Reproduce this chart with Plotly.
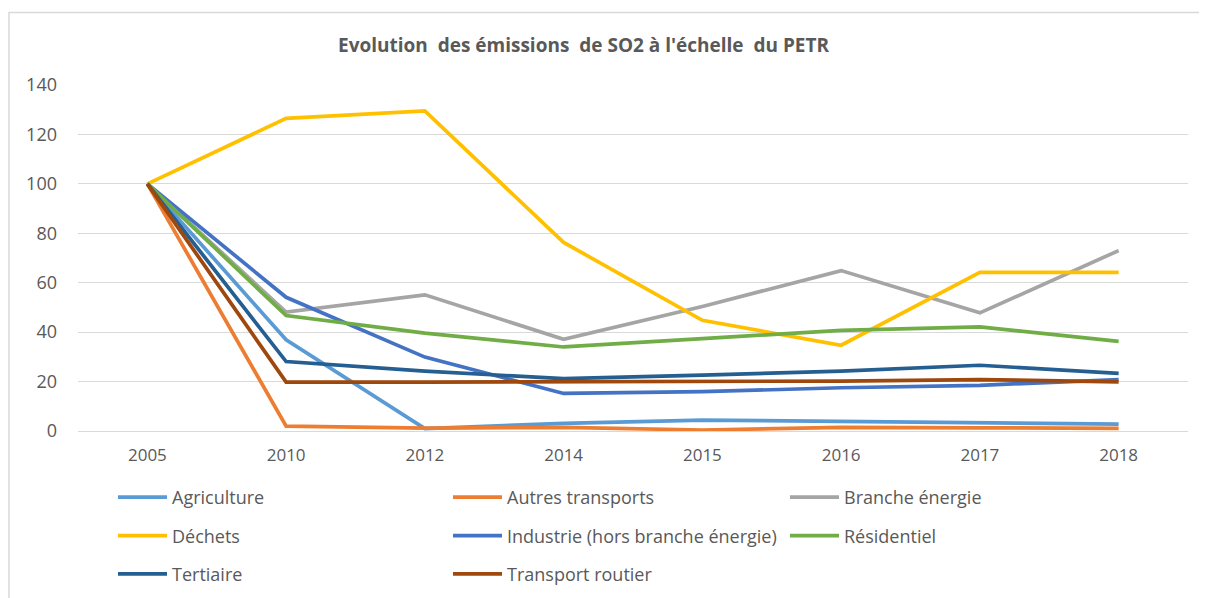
import plotly.graph_objects as go

years = ["2005", "2010", "2012", "2014", "2015", "2016", "2017", "2018"]

agriculture = [100, 36.9, 1.0, 3.1, 4.4, 3.8, 3.1, 2.8]
autres_transports = [100, 2.0, 1.2, 1.5, 0.4, 1.5, 1.3, 1.1]
branche_energie = [100, 48.1, 55.1, 37.1, 50.4, 64.9, 47.8, 73.0]
dechets = [100, 126.5, 129.5, 76.3, 44.8, 34.7, 64.2, 64.2]
industrie = [100, 54.1, 29.9, 15.2, 15.9, 17.5, 18.5, 20.8]
residentiel = [100, 46.7, 39.6, 34.0, 37.4, 40.7, 42.1, 36.3]
tertiaire = [100, 28.1, 24.2, 21.2, 22.6, 24.2, 26.6, 23.3]
transport_routier = [100, 19.8, 19.8, 19.9, 19.9, 20.2, 20.8, 19.9]

series_names = ["Agriculture", "Autres transports", "Branche énergie", "Déchets",
                "Industrie (hors branche énergie)", "Résidentiel", "Tertiaire",
                "Transport routier"]
series_values = [agriculture, autres_transports, branche_energie, dechets,
                 industrie, residentiel, tertiaire, transport_routier]
colors = ["#5B9BD5", "#ED7D31", "#A5A5A5", "#FFC000", "#4472C4", "#70AD47",
          "#255E91", "#9E480E"]

title_text = "Evolution  des émissions  de SO2 à l'échelle  du PETR"

# page body margin offset
OFF = 8
W, H = 1207 - OFF, 598 - OFF
# plot area in window pixel coords
L, R = 78, 1188
T, B = 84.5, 431

def px_x(x):
    return (x - L) / (R - L)

def px_y(y):
    return (B - y) / (B - T)

fig = go.Figure()
legend_ids = ["legend", "legend2", "legend3"]
for i, (name, vals, col) in enumerate(zip(series_names, series_values, colors)):
    fig.add_trace(go.Scatter(
        x=years, y=vals, name=name, mode="lines",
        line=dict(color=col, width=3.7),
        legend=legend_ids[i % 3],
        legendgroup=name,
    ))

font_col = "#595959"
fam = "Open Sans, sans-serif"
fs = 17

def leg(xpx):
    return dict(
        x=px_x(xpx), y=px_y(479), xanchor="left", yanchor="top",
        orientation="v", tracegroupgap=12, itemwidth=49,
        font=dict(family=fam, size=18, color=font_col),
        bgcolor="rgba(0,0,0,0)",
    )

fig.update_layout(
    width=W, height=H,
    margin=dict(l=L - OFF, r=W - (R - OFF), t=T - OFF, b=H - (B - OFF),
                pad=0, autoexpand=False),
    paper_bgcolor="white", plot_bgcolor="white",
    showlegend=True,
    legend=leg(113),
    legend2=leg(448),
    legend3=leg(785),
    font=dict(family=fam, size=fs, color=font_col),
    xaxis=dict(
        type="category", range=[-0.5, 7.5], showgrid=False, zeroline=False,
        showline=False, ticks="", ticklabelstandoff=12,
        tickfont=dict(family=fam, size=fs, color=font_col),
    ),
    yaxis=dict(
        range=[0, 140], dtick=20, showgrid=True, gridcolor="#D9D9D9",
        gridwidth=1.3, zeroline=True, zerolinecolor="#D9D9D9", zerolinewidth=1.3,
        showline=False, ticks="", ticklabelstandoff=20,
        tickfont=dict(family=fam, size=18, color=font_col),
    ),
    annotations=[dict(
        text="<b>" + title_text + "</b>", x=px_x(583), y=px_y(44),
        xref="paper", yref="paper", xanchor="center", yanchor="middle",
        showarrow=False, font=dict(family=fam, size=19, color=font_col),
    )],
    shapes=[dict(
        type="rect", xref="paper", yref="paper",
        x0=px_x(9), x1=px_x(1240), y0=px_y(650), y1=px_y(12),
        line=dict(color="#D9D9D9", width=1.5), fillcolor="rgba(0,0,0,0)",
        layer="below",
    )],
)

fig.write_html("out.html")
